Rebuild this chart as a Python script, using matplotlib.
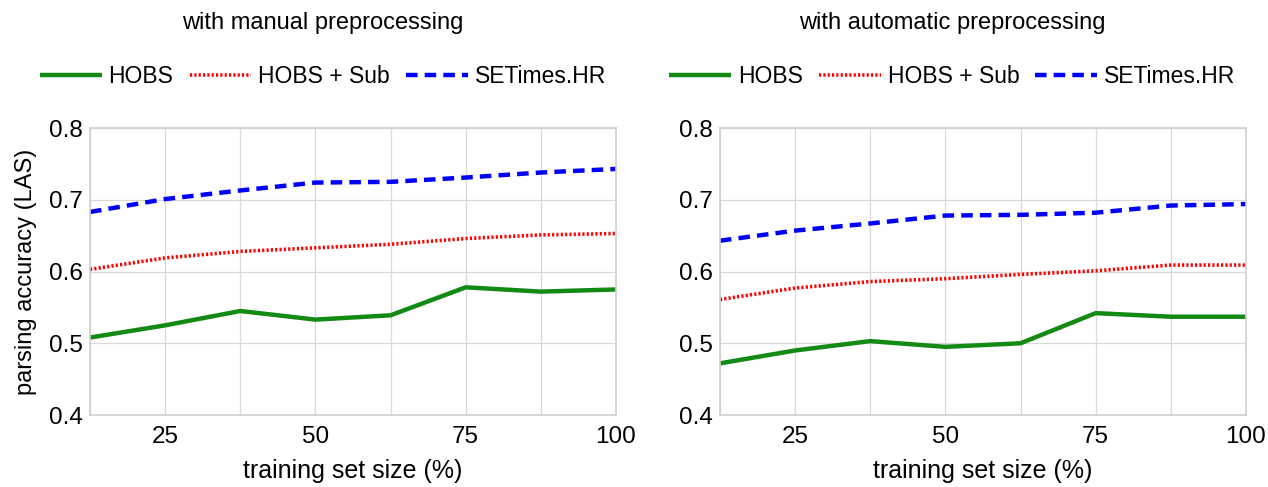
import matplotlib.pyplot as plt
import numpy as np

plt.rcParams['font.family'] = ['Liberation Sans', 'DejaVu Sans']

sizes = [12.5, 25, 37.5, 50, 62.5, 75, 87.5, 100]

# manual preprocessing
manual_hobs = [0.508, 0.525, 0.545, 0.533, 0.539, 0.578, 0.572, 0.575]
manual_sub = [0.603, 0.619, 0.628, 0.633, 0.638, 0.646, 0.651, 0.653]
manual_set = [0.683, 0.701, 0.713, 0.724, 0.725, 0.731, 0.738, 0.743]

# automatic preprocessing
auto_hobs = [0.472, 0.490, 0.503, 0.495, 0.500, 0.542, 0.537, 0.537]
auto_sub = [0.561, 0.577, 0.586, 0.590, 0.596, 0.601, 0.609, 0.609]
auto_set = [0.643, 0.657, 0.667, 0.678, 0.679, 0.682, 0.692, 0.694]

titles = ["with manual preprocessing", "with automatic preprocessing"]
series_names = ["HOBS", "HOBS + Sub", "SETimes.HR"]

fig = plt.figure(figsize=(12.68, 4.87), dpi=100)
ax1 = fig.add_axes([0.0710, 0.1478, 0.4148, 0.5893])
ax2 = fig.add_axes([0.5678, 0.1478, 0.4148, 0.5893])

panels = [(ax1, manual_hobs, manual_sub, manual_set),
          (ax2, auto_hobs, auto_sub, auto_set)]

for i, (ax, hobs, sub, st) in enumerate(panels):
    l1, = ax.plot(sizes, hobs, color="#138a13", lw=3.2, solid_capstyle="butt")
    l2, = ax.plot(sizes, sub, color="#ff0000", lw=2.6, linestyle=(0, (0.6, 0.6)))
    l3, = ax.plot(sizes, st, color="#0000ff", lw=3.2, linestyle=(0, (2.6, 1.6)))

    ax.set_xlim(12.5, 100)
    ax.set_ylim(0.4, 0.8)
    ax.set_xticks([25, 50, 75, 100])
    ax.set_xticks(sizes, minor=True)
    ax.set_yticks([0.4, 0.5, 0.6, 0.7, 0.8])
    ax.set_yticklabels(["0.4", "0.5", "0.6", "0.7", "0.8"])
    ax.grid(True, which="both", color="#d9d9d9", lw=0.9)
    ax.set_axisbelow(True)
    ax.tick_params(which="both", length=0, labelsize=17.5)
    ax.tick_params(axis="y", pad=5)
    ax.tick_params(axis="x", pad=8)
    for sp in ax.spines.values():
        sp.set_color("#d0d0d0")
        sp.set_linewidth(1.2)
    ax.set_xlabel("training set size (%)", fontsize=18, labelpad=8)

    cx = 0.2547 if i == 0 else 0.751
    fig.text(cx, 0.952, titles[i], ha="center", va="center", fontsize=17)
    fig.legend([l1, l2, l3], series_names, loc="center", bbox_to_anchor=(cx, 0.842),
               ncol=3, frameon=False, fontsize=16.5, handlelength=2.7,
               handletextpad=0.3, columnspacing=0.7)

ax1.set_ylabel("parsing accuracy (LAS)", fontsize=17, labelpad=9)

fig.savefig("out.png", dpi=100)
